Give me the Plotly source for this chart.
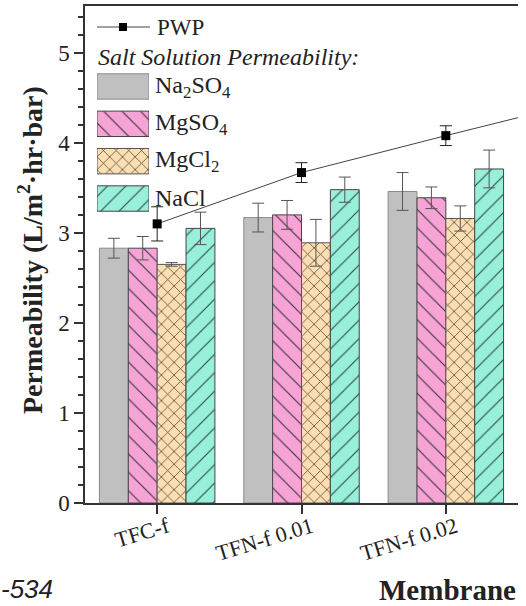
import plotly.graph_objects as go

# ---------------- data ----------------
membranes = ["TFC-f", "TFN-f 0.01", "TFN-f 0.02"]
pwp_membranes = ["TFC-f", "TFN-f 0.01", "TFN-f 0.02", "TFN-f 0.03"]

salt_names = ["Na<sub>2</sub>SO<sub>4</sub>", "MgSO<sub>4</sub>", "MgCl<sub>2</sub>", "NaCl"]
na2so4 = [2.83, 3.17, 3.46]
na2so4_err = [0.11, 0.16, 0.21]
mgso4 = [2.83, 3.20, 3.39]
mgso4_err = [0.13, 0.16, 0.12]
mgcl2 = [2.65, 2.89, 3.16]
mgcl2_err = [0.02, 0.26, 0.14]
nacl = [3.05, 3.48, 3.71]
nacl_err = [0.18, 0.14, 0.21]

pwp = [3.10, 3.67, 4.08, 4.48]
pwp_err = [0.19, 0.11, 0.11, 0.11]

y_ticks = [0, 1, 2, 3, 4, 5]

# ---------------- styles ----------------
colors = ["#c0c0c0", "#f6a4d6", "#fbdfb4", "#98efda"]
patterns = ["", "\\", "x", "/"]
pat_sizes = [10, 13, 9, 13]
pat_fg = ["#333333", "#2a2a2a", "#4a3a22", "#1f3f38"]
pat_sol = [0.1, 0.09, 0.17, 0.09]
line_cols = ["#8a8a8a", "#444444", "#555555", "#444444"]
series = [(na2so4, na2so4_err), (mgso4, mgso4_err), (mgcl2, mgcl2_err), (nacl, nacl_err)]

SERIF = "Liberation Serif"
SANS = "Liberation Sans"
W, H = 526, 606
L, R, T, B = 85, 518, 6, 503


def px_x(x):
    return (x - L) / (R - L)


def px_y(y):
    return (B - y) / (B - T)


def marker_for(i):
    return dict(color=colors[i], line=dict(color=line_cols[i], width=1),
                pattern=dict(shape=patterns[i], size=pat_sizes[i], solidity=pat_sol[i],
                             fgcolor=pat_fg[i], fgopacity=0.9))


fig = go.Figure()

for i, ((vals, errs), name) in enumerate(zip(series, salt_names)):
    fig.add_trace(go.Bar(
        x=membranes, y=vals, name=name, showlegend=False,
        marker=marker_for(i),
        error_y=dict(type="data", array=errs, color="#555555", thickness=1, width=6),
    ))

fig.add_trace(go.Scatter(
    x=pwp_membranes, y=pwp, mode="lines+markers", name="PWP", showlegend=False,
    line=dict(color="#444444", width=1),
    marker=dict(symbol="square", size=9, color="#000000"),
    error_y=dict(type="data", array=pwp_err, color="#222222", thickness=1, width=6),
    cliponaxis=True,
))

# ---- legend swatches on an overlay axis ----
for i, name in enumerate(salt_names):
    fig.add_trace(go.Bar(
        x=[1], y=[name], orientation="h", xaxis="x2", yaxis="y2", showlegend=False,
        width=0.68, offset=-0.34, base=0,
        marker=marker_for(i),
        hoverinfo="skip",
    ))

fig.update_layout(
    width=W, height=H,
    margin=dict(l=L, r=W - R, t=T, b=H - B, autoexpand=False),
    paper_bgcolor="white", plot_bgcolor="white",
    barmode="group", bargap=0.2, bargroupgap=0,
    font=dict(family=SERIF, color="#222222"),
    xaxis=dict(
        type="category", categoryorder="array", categoryarray=pwp_membranes,
        range=[-0.5, 2.5],
        showline=True, linecolor="#333333", linewidth=1.5, mirror=True,
        ticks="outside", ticklen=9, tickwidth=1.5, tickcolor="#333333",
        tickangle=-17, tickfont=dict(size=22, family=SERIF),
        ticklabelshift=10, ticklabelstandoff=-8,
        showgrid=False, zeroline=False,
    ),
    yaxis=dict(
        range=[0, 5.52], tickvals=y_ticks,
        showline=True, linecolor="#333333", linewidth=1.5, mirror=False,
        ticks="outside", ticklen=9, tickwidth=1.5, tickcolor="#333333",
        tickfont=dict(size=23, family=SERIF),
        minor=dict(dtick=0.2, ticks="outside", ticklen=5, tickwidth=1.5, tickcolor="#333333"),
        showgrid=False, zeroline=False,
    ),
    xaxis2=dict(domain=[px_x(97), px_x(149)], range=[0, 1], anchor="y2",
                visible=False, fixedrange=True),
    yaxis2=dict(domain=[px_y(217.2), px_y(67.8)], type="category",
                categoryorder="array", categoryarray=salt_names, autorange="reversed",
                anchor="x2", visible=False, fixedrange=True),
)

# ---- legend: PWP line sample ----
fig.add_shape(type="line", xref="paper", yref="paper",
              x0=px_x(97), x1=px_x(150), y0=px_y(27), y1=px_y(27),
              line=dict(color="#444444", width=1))
fig.add_shape(type="rect", xref="paper", yref="paper",
              x0=px_x(119), x1=px_x(127), y0=px_y(23), y1=px_y(31),
              fillcolor="#000000", line=dict(color="#000000", width=0))

ann = []
ann.append(dict(text="PWP", x=px_x(155), y=px_y(28), xanchor="left", yanchor="middle",
                font=dict(size=23, family=SERIF, color="#222222")))
ann.append(dict(text="<i>Salt Solution Permeability:</i>", x=px_x(96), y=px_y(57),
                xanchor="left", yanchor="middle",
                font=dict(size=24, family=SERIF, color="#222222")))
for k, name in enumerate(salt_names):
    cy = 86.5 + k * 37.3
    ann.append(dict(text=name, x=px_x(153), y=px_y(cy), xanchor="left", yanchor="middle",
                    font=dict(size=24, family=SERIF, color="#222222")))

ann.append(dict(text="<b>Permeability (L/m<sup>2</sup>·hr·bar)</b>", x=px_x(30), y=px_y(250),
                xanchor="center", yanchor="middle", textangle=-90,
                font=dict(size=28, family=SERIF, color="#222222")))
ann.append(dict(text="<b>Membrane</b>", x=px_x(518), y=px_y(590), xanchor="right",
                yanchor="middle", font=dict(size=29, family=SERIF, color="#222222")))
ann.append(dict(text="<i>-534</i>", x=px_x(-1), y=px_y(589), xanchor="left", yanchor="middle",
                font=dict(size=26, family=SANS, color="#222222")))

for a in ann:
    a.update(xref="paper", yref="paper", showarrow=False)
fig.update_layout(annotations=ann)

fig.write_html("out.html", config={"displayModeBar": False},
               post_script="document.body.style.margin='0';document.body.style.padding='0';")
